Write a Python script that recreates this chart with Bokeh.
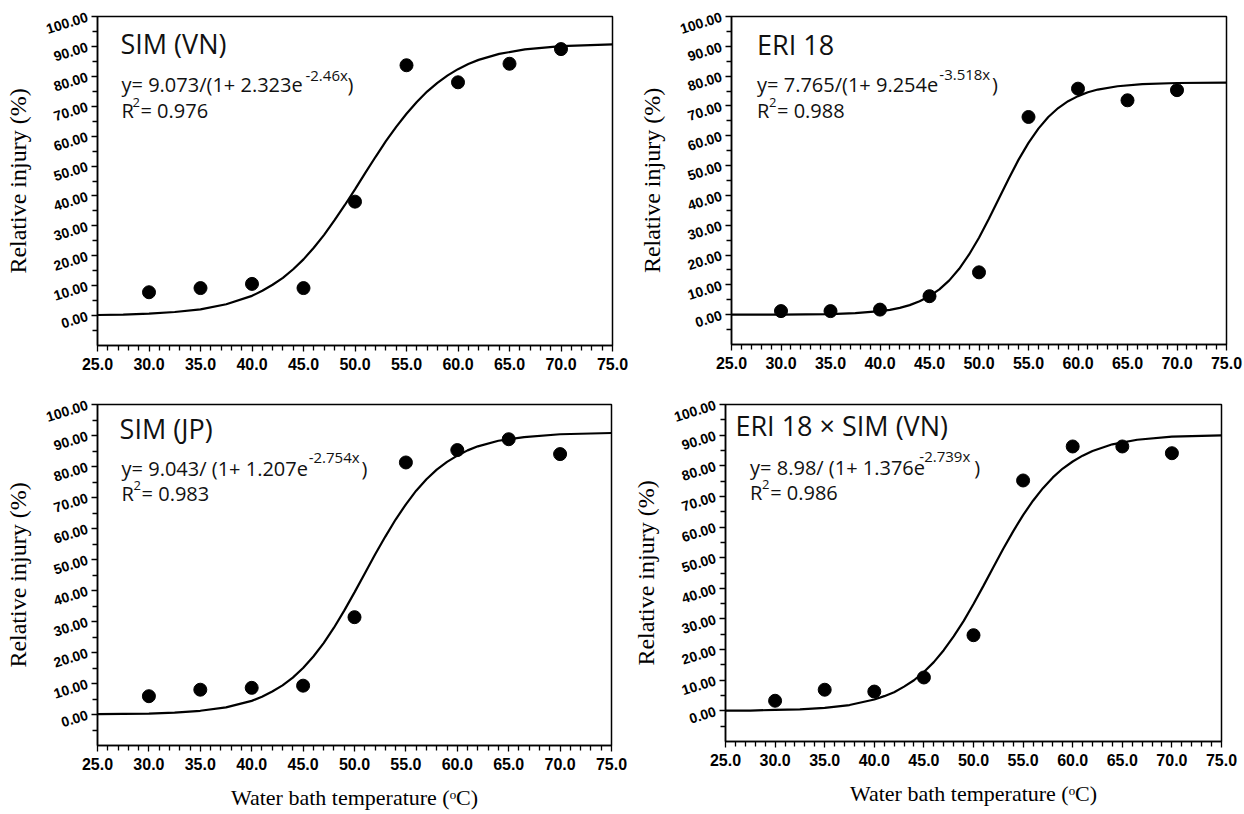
from bokeh.plotting import figure
from bokeh.models import Range1d, FixedTicker, NumeralTickFormatter, Label
from bokeh.layouts import column, row
from bokeh.embed import file_html
from bokeh.resources import INLINE

# ---------------- data ----------------
temps = [30, 35, 40, 45, 50, 55, 60, 65, 70]
sim_vn = [7.8, 9.2, 10.6, 9.2, 38.1, 83.7, 78.0, 84.2, 89.1]
eri18 = [1.2, 1.2, 1.7, 6.2, 14.2, 66.3, 75.8, 71.9, 75.3]
sim_jp = [5.9, 8.0, 8.6, 9.3, 31.4, 81.3, 85.3, 88.8, 84.0]
eri_x_sim = [3.3, 6.9, 6.3, 10.9, 24.7, 75.2, 86.3, 86.3, 84.1]

# fitted sigmoid curves
fit_t = [25, 27.5, 30, 32.5, 35, 37.5, 40, 41, 42, 43, 44, 45, 46, 47, 48, 49, 50,
         51, 52, 53, 54, 55, 56, 57, 58, 59, 60, 61, 62, 64, 66.5, 70, 75]
fit_sim_vn = [0.2, 0.35, 0.65, 1.2, 2.1, 3.8, 6.6, 8.3, 10.3, 12.6, 15.5, 18.8, 22.7, 27.0, 31.8, 36.9, 42.2,
              47.7, 53.1, 58.3, 63.1, 67.5, 71.4, 74.9, 77.8, 80.3, 82.4, 84.1, 85.5, 87.5, 89.0, 90.1, 90.7]
fit_eri18 = [0.0, 0.0, 0.0, 0.1, 0.2, 0.5, 1.2, 1.6, 2.3, 3.2, 4.5, 6.2, 8.5, 11.5, 15.4, 20.2, 25.8,
             32.2, 38.9, 45.6, 52.0, 57.6, 62.4, 66.3, 69.3, 71.6, 73.3, 74.6, 75.5, 76.6, 77.3, 77.7, 77.8]
fit_sim_jp = [0.1, 0.2, 0.3, 0.6, 1.2, 2.3, 4.4, 5.7, 7.4, 9.4, 11.9, 15.0, 18.7, 23.0, 28.0, 33.5, 39.4,
              45.5, 51.6, 57.4, 62.9, 67.8, 72.2, 75.9, 79.0, 81.5, 83.5, 85.2, 86.5, 88.3, 89.5, 90.4, 90.8]
fit_eri_x_sim = [0.1, 0.1, 0.3, 0.5, 1.0, 1.9, 3.7, 4.8, 6.1, 7.9, 10.0, 12.7, 15.9, 19.8, 24.3, 29.3, 34.9,
                 40.8, 46.9, 52.9, 58.6, 63.9, 68.6, 72.7, 76.2, 79.1, 81.4, 83.3, 84.8, 87.0, 88.5, 89.5, 89.9]

titles = ["SIM (VN)", "ERI 18", "SIM (JP)", "ERI 18 \u00d7 SIM (VN)"]
eq_main = ["y= 9.073/(1+ 2.323e", "y= 7.765/(1+ 9.254e", "y= 9.043/ (1+ 1.207e", "y= 8.98/ (1+ 1.376e"]
eq_sup = ["-2.46x", "-3.518x", "-2.754x", "-2.739x"]
r2_vals = ["= 0.976", "= 0.988", "= 0.983", "= 0.986"]

x_ticks = [25, 30, 35, 40, 45, 50, 55, 60, 65, 70, 75]
x_minor = [t for t in range(25, 76) if t % 5 != 0]
y_ticks = [0, 10, 20, 30, 40, 50, 60, 70, 80, 90, 100]
y_minor = [-5, 5, 15, 25, 35, 45, 55, 65, 75, 85, 95]

TICK_FONT = "Liberation Sans"
SANS = "Open Sans"
SERIF = "Liberation Serif"


def panel(obs, fit, idx, frame_w, frame_h, mb, text_pos, xlabel):
    p = figure(frame_width=frame_w, frame_height=frame_h,
               x_range=Range1d(25, 75), y_range=Range1d(-10, 100),
               output_backend="svg", toolbar_location=None,
               min_border_left=mb[0], min_border_right=mb[1],
               min_border_top=mb[2], min_border_bottom=mb[3],
               background_fill_color="white", border_fill_color="white")
    p.grid.visible = False
    p.outline_line_color = "black"
    p.outline_line_width = 1.5
    p.outline_line_alpha = 1.0

    p.line(fit_t, fit, line_color="black", line_width=2.2)
    p.scatter(temps, obs, size=13, fill_color="black", line_color="black")

    xa = p.xaxis[0]
    xa.ticker = FixedTicker(ticks=x_ticks, minor_ticks=x_minor)
    xa.formatter = NumeralTickFormatter(format="0.0")
    ya = p.yaxis[0]
    ya.ticker = FixedTicker(ticks=y_ticks, minor_ticks=y_minor)
    ya.formatter = NumeralTickFormatter(format="0.00")
    for ax in (xa, ya):
        ax.axis_line_color = "black"
        ax.axis_line_width = 1.5
        ax.major_tick_line_color = "black"
        ax.minor_tick_line_color = "black"
        ax.major_tick_line_width = 1.3
        ax.minor_tick_line_width = 1.3
        ax.major_tick_in = 0
        ax.minor_tick_in = 0
        ax.major_tick_out = 6
        ax.minor_tick_out = 5
        ax.major_label_text_font = TICK_FONT
        ax.major_label_text_font_style = "bold"
        ax.major_label_text_color = "black"
        ax.axis_label_text_font = SERIF
        ax.axis_label_text_font_style = "normal"
        ax.axis_label_text_color = "black"
    xa.major_label_text_font_size = "16px"
    xa.major_label_standoff = 6
    ya.major_label_text_font_size = "14px"
    ya.major_label_orientation = 0.3
    ya.major_label_standoff = 4
    ya.axis_label = "Relative injury (%)"
    ya.axis_label_text_font_size = "24px"
    ya.axis_label_standoff = 10
    if xlabel:
        xa.axis_label = "Water bath temperature (\u1d52C)"
        xa.axis_label_text_font_size = "22px"
        xa.axis_label_standoff = 12

    tp = text_pos
    def lab(x, y, text, size):
        p.add_layout(Label(x=x, y=y, text=text, text_font=SANS, text_font_size=size,
                           text_color="#111111", text_baseline="alphabetic"))
    lab(tp["title"][0], tp["title"][1], titles[idx], "27px")
    lab(tp["eq"][0], tp["eq"][1], eq_main[idx], "20px")
    lab(tp["sup"][0], tp["sup"][1], eq_sup[idx], "15px")
    lab(tp["par"], tp["eq"][1], ")", "20px")
    lab(tp["eq"][0], tp["r"][1], "R", "20px")
    lab(tp["two"][0], tp["two"][1], "2", "13px")
    lab(tp["r"][0], tp["r"][1], r2_vals[idx], "20px")
    return p


pos1 = dict(title=(27.23, 91.1), eq=(27.33, 77.3), sup=(45.19, 80.3), par=49.27,
            r=(29.17, 68.7), two=(28.4, 71.3))
pos2 = dict(title=(27.58, 90.46), eq=(27.58, 77.08), sup=(45.99, 80.79), par=51.32,
            r=(29.6, 68.55), two=(28.79, 71.25))
pos3 = dict(title=(27.15, 92.27), eq=(27.34, 79.4), sup=(45.54, 83.16), par=50.67,
            r=(29.29, 71.35), two=(28.5, 73.92))
pos4 = dict(title=(26.0, 93.1), eq=(27.48, 79.5), sup=(44.54, 83.33), par=50.07,
            r=(29.5, 71.34), two=(28.69, 73.95))

p1 = panel(sim_vn, fit_sim_vn, 0, 515, 329, (97, 16, 16, 40), pos1, False)
p2 = panel(eri18, fit_eri18, 1, 495, 328, (103, 18, 15, 42), pos2, False)
p3 = panel(sim_jp, fit_sim_jp, 2, 514, 341, (97, 17, 18, 70), pos3, True)
p4 = panel(eri_x_sim, fit_eri_x_sim, 3, 496, 337, (97, 23, 19, 73), pos4, True)

layout = column(row(p1, p2), row(p3, p4))
open("out.html", "w").write(file_html(layout, INLINE))
